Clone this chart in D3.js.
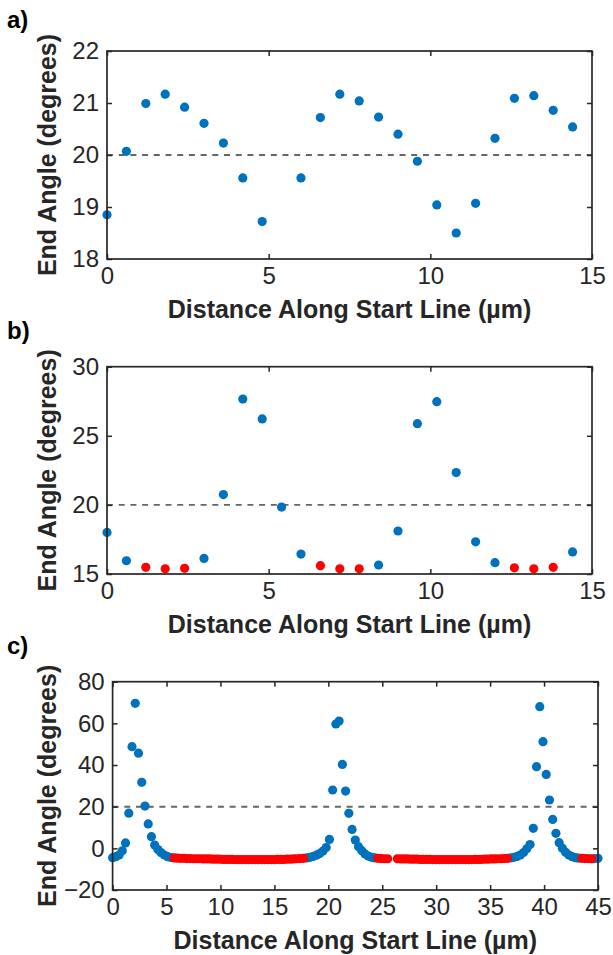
<!DOCTYPE html>
<html lang="en">
<head>
<meta charset="UTF-8">
<title>End angle vs distance along start line</title>
<style>
  body { margin: 0; background: #fff; }
  svg { display: block; font-family: "Liberation Sans", Arial, sans-serif; }
</style>
</head>
<body>
<script src="https://cdnjs.cloudflare.com/ajax/libs/d3/7.8.2/d3.min.js"></script>
<script>

// a) no point recorded at 5.4 µm
const aX = [0, 0.6, 1.2, 1.8, 2.4, 3.0, 3.6, 4.2, 4.8, 6.0, 6.6, 7.2, 7.8, 8.4, 9.0, 9.6, 10.2, 10.8, 11.4, 12.0, 12.6, 13.2, 13.8, 14.4];
const aY = [18.85, 20.07, 20.99, 21.17, 20.92, 20.61, 20.23, 19.56, 18.72, 19.56, 20.72, 21.17, 21.04, 20.73, 20.40, 19.88, 19.04, 18.50, 19.07, 20.32, 21.09, 21.14, 20.86, 20.54];

// b) red = points sitting on the floor
const bX = [0, 0.6, 1.2, 1.8, 2.4, 3.0, 3.6, 4.2, 4.8, 5.4, 6.0, 6.6, 7.2, 7.8, 8.4, 9.0, 9.6, 10.2, 10.8, 11.4, 12.0, 12.6, 13.2, 13.8, 14.4];
const bY = [18.01, 15.96, 15.48, 15.38, 15.41, 16.13, 20.75, 27.66, 26.22, 19.84, 16.44, 15.60, 15.38, 15.38, 15.65, 18.11, 25.88, 27.47, 22.34, 17.33, 15.82, 15.45, 15.38, 15.48, 16.60];
const bRed = [0, 0, 1, 1, 1, 0, 0, 0, 0, 0, 0, 1, 1, 1, 0, 0, 0, 0, 0, 0, 0, 1, 1, 1, 0];

// c) sampled every 0.3 µm from 0 to 45, null = no value
const cStep = 0.3;
const cY = [
  -4.5, -4.0, -3.2, -1.2, 2.6, 16.9, 48.8, 69.6, 45.7, 31.7,
  20.3, 11.7, 5.6, 1.6, -0.6, -2.1, -3.2, -4.0, -4.4, -4.6,
  -4.7, -4.8, -4.8, -4.9, -4.9, -5.0, -5.0, -5.0, -5.1, -5.1,
  -5.1, -5.2, -5.2, -5.2, -5.3, -5.3, -5.3, -5.3, -5.4, -5.4,
  -5.4, -5.4, -5.4, -5.4, -5.4, -5.4, -5.4, -5.4, -5.4, -5.4,
  -5.4, -5.3, -5.3, -5.3, -5.2, -5.2, -5.1, -5.0, -4.9, -4.8,
  -4.6, -4.3, -3.9, -3.3, -2.5, -1.3, 0.4, 4.3, 28.0, 59.7,
  61.1, 40.3, 27.5, 16.8, 9.1, 4.0, 0.8, -1.1, -2.7, -3.7,
  -4.3, -4.6, -4.8, -4.9, -5.0, -5.0, null, null, -5.0, -5.1,
  -5.1, -5.1, -5.2, -5.2, -5.2, -5.3, -5.3, -5.3, -5.3, -5.4,
  -5.4, -5.4, -5.4, -5.4, -5.4, -5.4, -5.4, -5.4, -5.4, -5.4,
  -5.4, -5.4, -5.3, -5.3, -5.3, -5.2, -5.2, -5.1, -5.1, -5.0,
  -5.0, -4.9, -4.8, -4.6, -4.3, -3.9, -3.2, -2.0, -0.2, 1.8,
  9.6, 39.2, 68.0, 51.2, 35.5, 23.2, 13.9, 7.2, 2.7, 0.0,
  -1.9, -3.2, -4.0, -4.5, -4.7, -4.8, -4.9, -4.9, -5.0, -4.9,
  -4.8
];
// x ranges (µm) drawn red
const cRed = [[5.7, 17.7], [24.6, 25.5], [26.4, 36.6], [43.5, 44.4]];

const threshold = 20;
const blue = "#0072BD";
const red = "#FF0000";
const ink = "#262626";
const dot = 4.6;

const w = 613;
const h = 955;

const svg = d3.select("body")
    .append("svg")
    .attr("width", w)
    .attr("height", h);

function panel(o) {
    const g = svg.append("g");

    const x = d3.scaleLinear().domain(o.xDom).range([o.left, o.right]);
    const y = d3.scaleLinear().domain(o.yDom).range([o.bottom, o.top]);

    // 20 degree reference line
    g.append("line")
        .attr("x1", x(o.xDom[0]))
        .attr("x2", x(o.xDom[1]))
        .attr("y1", y(threshold))
        .attr("y2", y(threshold))
        .attr("stroke", "#666")
        .attr("stroke-width", 1.9)
        .attr("stroke-dasharray", "6,5.7");

    // blue first, red drawn on top
    const pts = o.points;
    g.selectAll("circle.blue")
        .data(pts.filter(d => !d.red))
        .enter()
        .append("circle")
            .attr("class", "blue")
            .attr("cx", d => x(d.x))
            .attr("cy", d => y(d.y))
            .attr("r", dot)
            .style("fill", blue);
    g.selectAll("circle.red")
        .data(pts.filter(d => d.red))
        .enter()
        .append("circle")
            .attr("class", "red")
            .attr("cx", d => x(d.x))
            .attr("cy", d => y(d.y))
            .attr("r", dot)
            .style("fill", red);

    // axes, ticks pointing inward on all four sides
    const fmt = d3.format("d");
    const bottom = g.append("g")
        .attr("transform", `translate(0,${o.bottom})`)
        .call(d3.axisBottom(x).tickValues(o.xTicks).tickFormat(fmt).tickSizeInner(-5).tickSizeOuter(0).tickPadding(8));
    const left = g.append("g")
        .attr("transform", `translate(${o.left},0)`)
        .call(d3.axisLeft(y).tickValues(o.yTicks).tickFormat(fmt).tickSizeInner(-5).tickSizeOuter(0).tickPadding(8));
    const top = g.append("g")
        .attr("transform", `translate(0,${o.top})`)
        .call(d3.axisTop(x).tickValues(o.xTicks).tickSizeInner(-5).tickSizeOuter(0).tickFormat(""));
    const right = g.append("g")
        .attr("transform", `translate(${o.right},0)`)
        .call(d3.axisRight(y).tickValues(o.yTicks).tickSizeInner(-5).tickSizeOuter(0).tickFormat(""));

    [bottom, left, top, right].forEach(a => {
        a.attr("font-size", null).attr("font-family", null);
        a.select(".domain").remove();
        a.selectAll(".tick line").attr("stroke", ink).attr("stroke-width", 1.5);
        a.selectAll(".tick text")
            .attr("fill", ink)
            .attr("font-size", 24);
    });

    g.append("rect")
        .attr("x", o.left)
        .attr("y", o.top)
        .attr("width", o.right - o.left)
        .attr("height", o.bottom - o.top)
        .attr("fill", "none")
        .attr("stroke", ink)
        .attr("stroke-width", 1.7);

    g.append("text")
        .attr("x", (o.left + o.right) / 2)
        .attr("y", o.bottom + 59)
        .attr("text-anchor", "middle")
        .attr("font-weight", "bold")
        .attr("font-size", 25)
        .attr("fill", ink)
        .text("Distance Along Start Line (µm)");

    g.append("text")
        .attr("transform", `translate(56,${(o.top + o.bottom) / 2}) rotate(-90)`)
        .attr("text-anchor", "middle")
        .attr("font-weight", "bold")
        .attr("font-size", 25)
        .attr("fill", ink)
        .text("End Angle (degrees)");

    g.append("text")
        .attr("x", 7)
        .attr("y", o.labelY)
        .attr("font-weight", "bold")
        .attr("font-size", 24)
        .attr("fill", "#000")
        .text(o.label);
}

panel({
    label: "a)", labelY: 28,
    left: 107, right: 592, top: 51, bottom: 259,
    xDom: [0, 15], yDom: [18, 22],
    xTicks: [0, 5, 10, 15], yTicks: [18, 19, 20, 21, 22],
    points: aX.map((v, i) => ({x: v, y: aY[i], red: false}))
});

panel({
    label: "b)", labelY: 339,
    left: 107, right: 592, top: 366.7, bottom: 574,
    xDom: [0, 15], yDom: [15, 30],
    xTicks: [0, 5, 10, 15], yTicks: [15, 20, 25, 30],
    points: bX.map((v, i) => ({x: v, y: bY[i], red: bRed[i] === 1}))
});

const cPoints = cY
    .map((v, i) => ({x: +(i * cStep).toFixed(1), y: v}))
    .filter(d => d.y !== null)
    .map(d => ({...d, red: cRed.some(r => d.x >= r[0] - 1e-6 && d.x <= r[1] + 1e-6)}));

panel({
    label: "c)", labelY: 654,
    left: 112.6, right: 598, top: 681.7, bottom: 890,
    xDom: [0, 45], yDom: [-20, 80],
    xTicks: [0, 5, 10, 15, 20, 25, 30, 35, 40, 45], yTicks: [-20, 0, 20, 40, 60, 80],
    points: cPoints
});

</script>
</body>
</html>
